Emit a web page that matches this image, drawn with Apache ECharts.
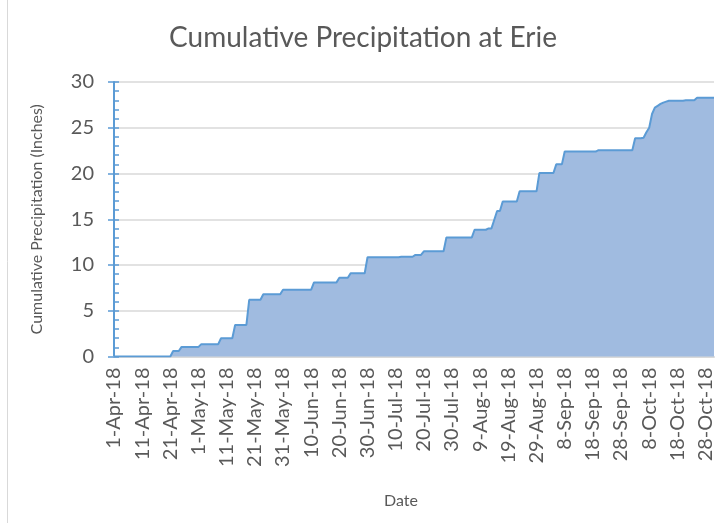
<!DOCTYPE html>
<html>
<head>
<meta charset="utf-8">
<script src="https://cdn.jsdelivr.net/npm/echarts@6/dist/echarts.min.js"></script>
<style>html,body{margin:0;padding:0;background:#fff}#c{width:726px;height:523px}</style>
</head>
<body>
<div id="c"></div>
<script>
// Month names and lengths used to build daily date labels (1-Apr-18 .. 31-Oct-18)
var monthNames = ['Apr', 'May', 'Jun', 'Jul', 'Aug', 'Sep', 'Oct'];
var monthDays = [30, 31, 30, 31, 31, 30, 31];

// Cumulative precipitation (inches), one value per day
var aprValues = [0,0,0,0,0,0,0,0,0,0, 0,0,0,0,0,0,0,0,0,0, 0,0.6,0.6,0.6,1.05,1.05,1.05,1.05,1.05,1.05];
var mayValues = [1.05,1.35,1.35,1.35,1.35,1.35,1.35,1.35,2.0,2.0, 2.0,2.0,2.0,3.45,3.45,3.45,3.45,3.45,6.2,6.2, 6.2,6.2,6.2,6.8,6.8,6.8,6.8,6.8,6.8,6.8, 7.3];
var junValues = [7.3,7.3,7.3,7.3,7.3,7.3,7.3,7.3,7.3,7.3, 8.1,8.1,8.1,8.1,8.1,8.1,8.1,8.1,8.1,8.6, 8.6,8.6,8.6,9.1,9.1,9.1,9.1,9.1,9.1,10.85];
var julValues = [10.85,10.85,10.85,10.85,10.85,10.85,10.85,10.85,10.85,10.85, 10.85,10.9,10.9,10.9,10.9,10.9,11.1,11.1,11.1,11.5, 11.5,11.5,11.5,11.5,11.5,11.5,11.5,13.0,13.0,13.0, 13.0];
var augValues = [13.0,13.0,13.0,13.0,13.0,13.0,13.85,13.85,13.85,13.85, 13.85,14.0,14.0,14.95,15.9,15.9,16.95,16.95,16.95,16.95, 16.95,16.95,18.05,18.05,18.05,18.05,18.05,18.05,18.05,20.05, 20.05];
var sepValues = [20.05,20.05,20.05,20.05,21.0,21.0,21.0,22.4,22.4,22.4, 22.4,22.4,22.4,22.4,22.4,22.4,22.4,22.4,22.4,22.55, 22.55,22.55,22.55,22.55,22.55,22.55,22.55,22.55,22.55,22.55];
var octValues = [22.55,22.55,23.85,23.85,23.85,23.9,24.5,25.0,26.5,27.2, 27.4,27.6,27.75,27.85,27.95,27.95,27.95,27.95,27.95,27.95, 28.0,28.0,28.0,28.0,28.28,28.28,28.28,28.28,28.28,28.28, 28.28];

// Y axis ticks
var yTicks = [0, 5, 10, 15, 20, 25, 30];

var categories = [];
for (var m = 0; m < monthNames.length; m++) {
  for (var d = 1; d <= monthDays[m]; d++) {
    categories.push(d + '-' + monthNames[m] + '-18');
  }
}
var values = [].concat(aprValues, mayValues, junValues, julValues, augValues, sepValues, octValues);

var FONT = 'Lato';
var TXT = '#595959';
var chart = echarts.init(document.getElementById('c'), null, {renderer: 'canvas'});
chart.setOption({
  animation: false,
  backgroundColor: '#ffffff',
  title: {
    text: 'Cumulative Precipitation at Erie',
    left: 'center',
    top: 19,
    textStyle: {fontFamily: FONT, fontSize: 28, fontWeight: 'normal', color: TXT}
  },
  grid: {left: 114, right: 12, top: 82, bottom: 166.5, containLabel: false},
  xAxis: {
    type: 'category',
    data: categories,
    boundaryGap: false,
    name: 'Date',
    nameLocation: 'middle',
    nameGap: 136,
    nameTextStyle: {fontFamily: FONT, fontSize: 16, color: TXT, padding: [0, 26, 0, 0]},
    axisLine: {show: true, lineStyle: {color: '#D9D9D9', width: 2}},
    axisTick: {show: false},
    axisLabel: {
      interval: 9,
      rotate: 90,
      margin: 11,
      fontFamily: FONT,
      fontSize: 20,
      color: TXT
    },
    splitLine: {show: false}
  },
  yAxis: [{
    type: 'value',
    min: yTicks[0],
    max: yTicks[yTicks.length - 1],
    interval: 5,
    name: 'Cumulative Precipitation (Inches)',
    nameLocation: 'middle',
    nameRotate: 90,
    nameGap: 69,
    nameTextStyle: {fontFamily: FONT, fontSize: 16, color: TXT},
    axisLine: {show: true, lineStyle: {color: '#5B9BD5', width: 2}},
    axisTick: {show: true, inside: false, length: 6, lineStyle: {color: '#5B9BD5', width: 1.5}},
    axisLabel: {margin: 20, fontFamily: FONT, fontSize: 20, color: TXT},
    splitLine: {show: true, lineStyle: {color: '#D9D9D9', width: 1.5}}
  }, {
    type: 'value',
    position: 'left',
    min: yTicks[0],
    max: yTicks[yTicks.length - 1],
    interval: 5,
    axisLine: {show: false},
    axisLabel: {show: false},
    splitLine: {show: false},
    axisTick: {show: true, inside: true, length: 5, lineStyle: {color: '#5B9BD5', width: 1.5}},
    minorTick: {show: true, splitNumber: 5, length: 5, lineStyle: {color: '#5B9BD5', width: 1.5}}
  }],
  series: [{
    type: 'line',
    data: values,
    yAxisIndex: 0,
    symbol: 'none',
    smooth: false,
    lineStyle: {color: '#5B9BD5', width: 2},
    areaStyle: {color: '#A0BBE0', opacity: 1},
    z: 3
  }],
  graphic: [{
    type: 'line',
    shape: {x1: 7.5, y1: 0, x2: 7.5, y2: 523},
    style: {stroke: '#D9D9D9', lineWidth: 1}
  }]
});
</script>
</body>
</html>
